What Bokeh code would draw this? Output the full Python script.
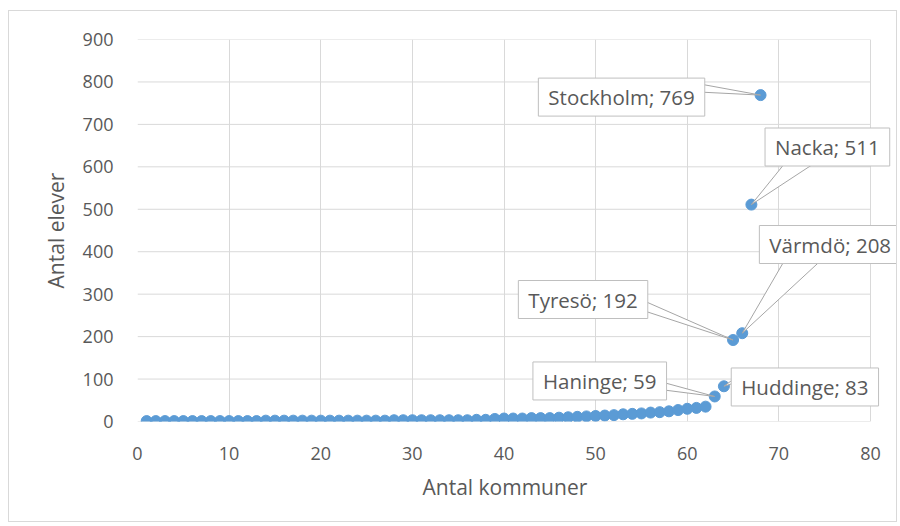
from bokeh.plotting import figure
from bokeh.models import Range1d, FixedTicker, Label, Title
from bokeh.embed import file_html
from bokeh.resources import INLINE

# ---- data ----
kommun_idx = list(range(1, 69))
elever = [1, 1, 1, 1, 1, 1, 1, 1, 1, 1, 1, 1, 1, 2, 2, 2, 2, 2, 2, 2,
          2, 2, 2, 2, 2, 2, 2, 3, 3, 3, 3, 3, 3, 3, 3, 3, 4, 4,
          6, 7, 7, 7, 8, 8, 8, 9, 10, 11, 12, 13, 14, 15, 17, 18, 19, 21,
          22, 24, 27, 30, 32, 35,
          59, 83, 192, 208, 511, 769]
label_names = ["Haninge", "Huddinge", "Tyresö", "Värmdö", "Nacka", "Stockholm"]
label_idx = [63, 64, 65, 66, 67, 68]
x_ticks = [0, 10, 20, 30, 40, 50, 60, 70, 80]
y_ticks = [0, 100, 200, 300, 400, 500, 600, 700, 800, 900]

# ---- layout ----
W, H = 889, 512
ML, MR, MT, MB = 128, 0, 28, 102
PLOT_W = 733          # pixel width of the 0..80 plot area
XMAX, YMAX = 80, 900
FW, FH = W - ML - MR, H - MT - MB
PX = PLOT_W / XMAX    # px per x unit
PY = FH / YMAX        # px per y unit
XEND = FW / PX        # frame extends right of 80 so callouts are not clipped

TXT = "#595959"
GRID = "#D9D9D9"
BLUE = "#5B9BD5"

p = figure(width=W, height=H, output_backend="svg", toolbar_location=None,
           x_range=Range1d(0, XEND), y_range=Range1d(0, YMAX),
           min_border_left=ML, min_border_right=MR, min_border_top=MT,
           min_border_bottom=MB)
p.styles = {"border": "1px solid #D9D9D9", "margin-left": "8px", "margin-top": "10px"}
p.outline_line_color = None
p.background_fill_color = "white"
p.border_fill_color = "white"

for ax in (p.xaxis[0], p.yaxis[0]):
    ax.axis_line_color = None
    ax.major_tick_line_color = None
    ax.minor_tick_line_color = None
    ax.major_tick_out = 0
    ax.major_tick_in = 0
    ax.minor_tick_out = 0
    ax.major_label_text_color = TXT
    ax.major_label_text_font = "Open Sans"
    ax.major_label_text_font_size = "18px"
    ax.axis_label_text_color = TXT
    ax.axis_label_text_font = "Open Sans"
    ax.axis_label_text_font_size = "21px"
    ax.axis_label_text_font_style = "normal"

p.xaxis.ticker = FixedTicker(ticks=x_ticks)
p.yaxis.ticker = FixedTicker(ticks=y_ticks)
p.yaxis.axis_label = "Antal elever"
p.xaxis.major_label_standoff = 25
p.yaxis.major_label_standoff = 24
p.yaxis.axis_label_standoff = 10

# x-axis title, placed under the 0..80 area
xt = Title(text="Antal kommuner", align="left", offset=285, standoff=16,
           text_color=TXT, text_font="Open Sans", text_font_size="21px",
           text_font_style="normal")
p.add_layout(xt, "below")

# grid: vertical via the grid, horizontal lines stop at x = 80
p.xgrid.ticker = FixedTicker(ticks=x_ticks)
p.xgrid.grid_line_color = GRID
p.ygrid.grid_line_color = None
p.segment(x0=[0] * len(y_ticks), x1=[XMAX] * len(y_ticks), y0=y_ticks, y1=y_ticks,
          line_color=GRID, line_width=1)

p.scatter(kommun_idx, elever, size=11, color=BLUE, line_color=BLUE)

# ---- callout labels (screen-pixel offsets, converted via the scales) ----
# box centre offset (dx, dy up) and wedge base points relative to the point
callouts = {
    "Stockholm": ((-139, -2), [(-60, 11), (-60, 3)]),
    "Nacka": ((76, 57.6), [(34, 42), (64, 42)]),
    "Värmdö": ((88, 88.7), [(43, 74), (80, 74)]),
    "Tyresö": ((-150, 40.5), [(-90, 39.5), (-90, 29.5)]),
    "Huddinge": ((81, -0.7), [(19, 14), (19, 6)]),
    "Haninge": ((-115, 15.5), [(-55, 15), (-55, 7)]),
}

wx, wy = [], []
for name, idx in zip(label_names, label_idx):
    v = elever[idx - 1]
    (dx, dy), base = callouts[name]
    wx.append([idx + base[0][0] / PX, idx, idx + base[1][0] / PX])
    wy.append([v + base[0][1] / PY, v, v + base[1][1] / PY])

p.patches(wx, wy, fill_color="white", line_color="#A6A6A6", line_width=1)

for name, idx in zip(label_names, label_idx):
    v = elever[idx - 1]
    (dx, dy), base = callouts[name]
    lab = Label(x=idx, y=v, x_offset=dx, y_offset=dy, text=f"{name}; {v}",
                text_align="center", text_baseline="middle",
                text_color=TXT, text_font="Open Sans", text_font_size="20.5px",
                background_fill_color="white", border_line_color="#BFBFBF",
                border_line_width=1,
                padding=dict(left=10, right=10, top=5, bottom=5))
    p.add_layout(lab)

open("out.html", "w").write(file_html(p, INLINE))
